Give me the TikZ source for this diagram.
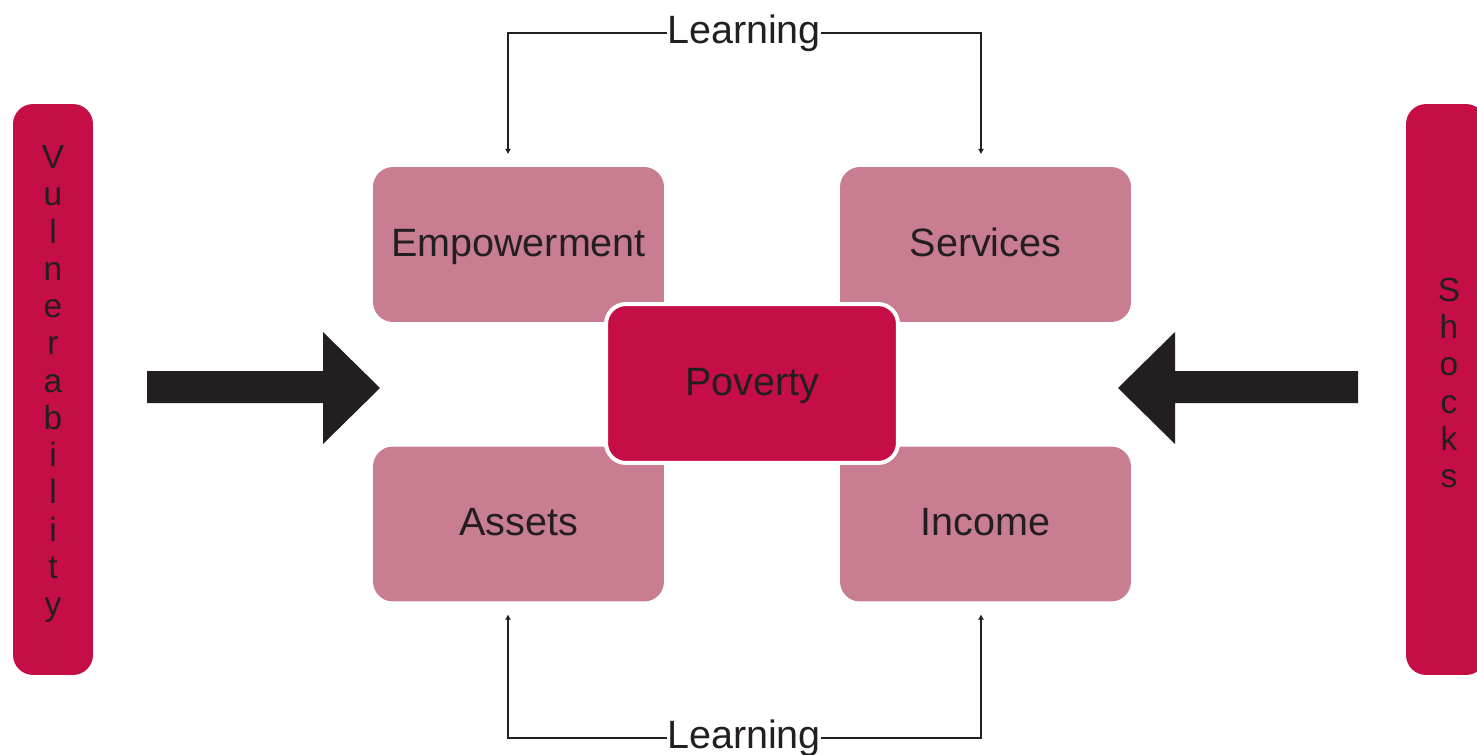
\documentclass[tikz,border=0pt]{standalone}
\usepackage{fontspec}
\setmainfont{Liberation Sans}
\usetikzlibrary{arrows.meta,calc}
\definecolor{boxpink}{HTML}{C97D91}
\definecolor{povred}{HTML}{C40E45}
\definecolor{inkdark}{HTML}{231F20}
\begin{document}
\begin{tikzpicture}[x=0.02cm,y=-0.02cm,
  factor/.style={fill=boxpink, rounded corners=0.4cm, minimum width=5.82cm, minimum height=3.1cm, inner sep=0pt, text height=0.47cm, text depth=0pt, text=inkdark, font=\fontsize{22.5}{26}\selectfont},
  core/.style={factor, fill=povred, draw=white, line width=0.08cm, minimum width=5.84cm, minimum height=3.18cm},
  sidebar/.style={fill=povred, rounded corners=0.4cm, minimum width=1.6cm, minimum height=11.42cm, inner sep=0pt},
  sideword/.style={text=inkdark, align=center, inner sep=0pt, font=\fontsize{19}{21.2}\selectfont},
  learnlabel/.style={text=inkdark, inner sep=0pt, font=\fontsize{22.5}{26}\selectfont},
  learnline/.style={draw=inkdark, line width=0.05cm, -{Latex[length=3pt,width=3.5pt]}, shorten >=0.25cm}
]
\useasboundingbox (0,0) rectangle (1477,754);

% side bars
\node[sidebar] (vul) at (53,389.5) {};
\node[sidebar] (shk) at (1446,389.5) {};
\node[sideword] (vultext) at (53,384) {V\\u\\l\\n\\e\\r\\a\\b\\i\\l\\i\\t\\y};
\node[sideword] (shktext) at (1449,383) {S\\h\\o\\c\\k\\s};

% pressure arrows
\fill[inkdark] (147,371) -- (323,371) -- (323,332) -- (380,388) -- (323,444) -- (323,403) -- (147,403) -- cycle;
\fill[inkdark] (1358,371) -- (1175,371) -- (1175,332) -- (1118,388) -- (1175,444) -- (1175,403) -- (1358,403) -- cycle;

% four factors and the core
\node[factor] (emp) at (518.5,244.5) {Empowerment};
\node[factor] (serv) at (985.5,244.5) {Services};
\node[factor] (assets) at (518.5,524) {Assets};
\node[factor] (income) at (985.5,524) {Income};
\node[core] (pov) at (752,383.5) {Poverty};

% learning loops
\node[learnlabel] (ltop) at (744,33) {Learning};
\node[learnlabel] (lbot) at (744,738) {Learning};
\draw[learnline] (ltop.west) -| ($(emp.north)+(-10.5,0)$);
\draw[learnline] (ltop.east) -| ($(serv.north)+(-4.5,0)$);
\draw[learnline] (lbot.west) -| ($(assets.south)+(-10.5,0)$);
\draw[learnline] (lbot.east) -| ($(income.south)+(-4.5,0)$);

\end{tikzpicture}
\end{document}
